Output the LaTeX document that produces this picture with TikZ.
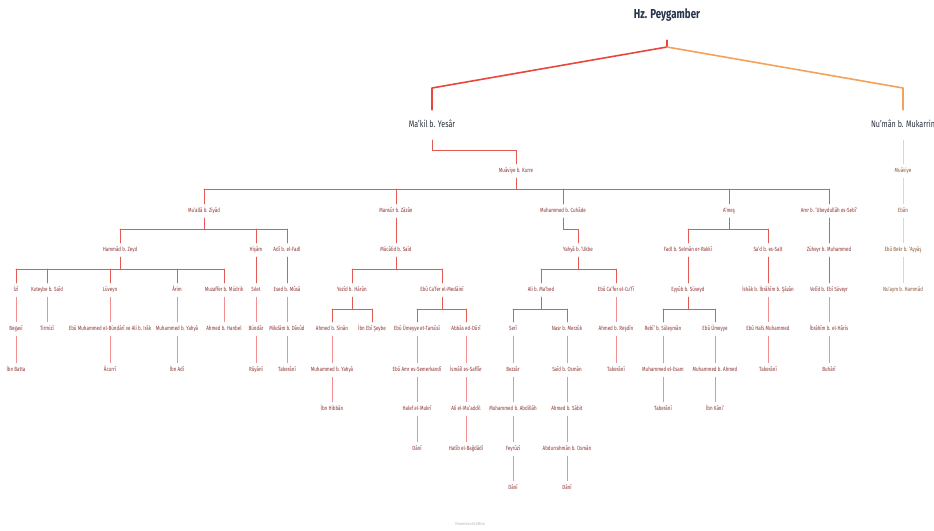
\documentclass[tikz,border=0pt]{standalone}
\usepackage{fontspec}
\setmainfont{Fira Sans}[FakeStretch=0.75]
\definecolor{topred}{HTML}{E8473E}
\definecolor{toporg}{HTML}{F4A259}
\definecolor{linered}{HTML}{E25A52}
\definecolor{linepink}{HTML}{F09090}
\definecolor{lineorg}{HTML}{F7CFA8}
\definecolor{txtred}{HTML}{8E3535}
\definecolor{txtorg}{HTML}{8B5A3A}
\definecolor{txtdark}{HTML}{2A2F3A}
\definecolor{navy}{HTML}{24324A}
\tikzset{
 lbl/.style={inner sep=0pt, minimum height=14pt, font=\fontsize{6}{7}\selectfont, text=txtred, text height=4.5pt, text depth=1pt},
 lblo/.style={lbl, text=txtorg},
 lone/.style={inner sep=0pt, minimum height=30pt, font=\fontsize{9.5}{11}\selectfont, text=txtdark, text height=7pt, text depth=2pt},
 rootn/.style={inner sep=0pt, minimum height=50pt, font=\bfseries\fontsize{13}{15}\selectfont, text=navy, text height=9.5pt, text depth=3pt},
 ln/.style={draw=linered, line width=1pt, line cap=round},
 lnt/.style={draw=linepink, line width=0.7pt, line cap=round},
 lno/.style={draw=lineorg, line width=0.8pt, line cap=round},
 topr/.style={draw=topred, line width=1.6pt, line cap=round, line join=round},
 topo/.style={draw=toporg, line width=1.6pt, line cap=round, line join=round},
 foot/.style={font=\fontsize{4}{5}\selectfont, text=black!30}
}
\newcommand\myfan[6][ln]{%
 \coordinate (fb) at (0,#3);
 \draw[#1] (#2.south) -- (#2.south |- fb);
 \draw[#1] (#4.north |- fb) -- (#5.north |- fb);
 \foreach \c in {#6}{\draw[#1] (\c.north) -- (\c.north |- fb);}
}
\begin{document}
\begin{tikzpicture}[x=1pt,y=-1pt]
\useasboundingbox (0,0) rectangle (934,530);
\fill[white] (0,0) rectangle (934,530);
% root and level 1
\node[rootn] (root) at (667,15) {Hz. Peygamber};
\node[lone] (makil) at (432,125) {Ma'kil b. Yesâr};
\node[lone] (numan) at (903,125) {Nu'mân b. Mukarrin};
% level 2
\node[lbl] (muaviyek) at (516,171) {Muâviye b. Kurre};
\node[lblo] (muaviye) at (903,171) {Muâviye};
% level 3
\node[lbl] (mualla) at (204,211) {Mu'allâ b. Ziyâd};
\node[lbl] (mansur) at (396,211) {Mansûr b. Zâzân};
\node[lbl] (cuhade) at (563,211) {Muhammed b. Cuhâde};
\node[lbl] (ames) at (729,211) {A'meş};
\node[lbl] (amr) at (829,211) {Amr b. 'Ubeydullâh es-Sebî'};
\node[lblo] (eban) at (903,211) {Ebân};
% level 4
\node[lbl] (hammad) at (120,250) {Hammâd b. Zeyd};
\node[lbl] (hisam) at (256,250) {Hişâm};
\node[lbl] (adi) at (287,250) {Adî b. el-Fadl};
\node[lbl] (mucalid) at (396,250) {Mücâlid b. Saîd};
\node[lbl] (yahya) at (578,250) {Yahyâ b. 'Ukbe};
\node[lbl] (fadl) at (688,250) {Fadl b. Selmân er-Rakkî};
\node[lbl] (sad) at (768,250) {Sa'd b. es-Salt};
\node[lbl] (zuheyr) at (829,250) {Züheyr b. Muhammed};
\node[lblo] (ebubekr) at (903,250) {Ebû Bekr b. 'Ayyâş};
% level 5
\node[lbl] (izi) at (16,290) {İzî};
\node[lbl] (kuteybe) at (47,290) {Kuteybe b. Saîd};
\node[lbl] (luveyn) at (110,290) {Lüveyn};
\node[lbl] (arim) at (177,290) {Ârim};
\node[lbl] (muzaffer) at (224,290) {Muzaffer b. Müdrik};
\node[lbl] (silet) at (256,290) {Sılet};
\node[lbl] (esed) at (287,290) {Esed b. Mûsâ};
\node[lbl] (yezid) at (352,290) {Yezîd b. Hârûn};
\node[lbl] (ebucafer) at (442,290) {Ebû Ca'fer el-Medâinî};
\node[lbl] (alimabed) at (541,290) {Ali b. Ma'bed};
\node[lbl] (cufi) at (616,290) {Ebû Ca'fer el-Cu'fî};
\node[lbl] (eyyub) at (688,290) {Eyyûb b. Süveyd};
\node[lbl] (ishak) at (768,290) {İshâk b. İbrâhîm b. Şâzân};
\node[lbl] (velid) at (829,290) {Velîd b. Ebî Süveyr};
\node[lblo] (nuaym) at (903,290) {Nu'aym b. Hammâd};
% level 6
\node[lbl] (begavi) at (16,329) {Begavî};
\node[lbl] (tirmizi) at (47,329) {Tirmizî};
\node[lbl] (ebumuh) at (110,329) {Ebû Muhammed el-Bündârî ve Ali b. Irâk};
\node[lbl] (muhyahyaa) at (177,329) {Muhammed b. Yahyâ};
\node[lbl] (ahmedh) at (224,329) {Ahmed b. Hanbel};
\node[lbl] (bundar) at (256,329) {Bündâr};
\node[lbl] (mikdam) at (287,329) {Mikdâm b. Dâvûd};
\node[lbl] (ahmeds) at (332,329) {Ahmed b. Sinân};
\node[lbl] (ibnebi) at (372,329) {İbn Ebî Şeybe};
\node[lbl] (tarsusi) at (417,329) {Ebû Ümeyye et-Tarsûsî};
\node[lbl] (duri) at (466,329) {Abbâs ed-Dûrî};
\node[lbl] (seri) at (513,329) {Serî};
\node[lbl] (nasr) at (567,329) {Nasr b. Merzûk};
\node[lbl] (resdin) at (616,329) {Ahmed b. Reşdîn};
\node[lbl] (rebi) at (663,329) {Rebî' b. Süleymân};
\node[lbl] (ebuumeyye) at (715,329) {Ebû Ümeyye};
\node[lbl] (ebuhafs) at (768,329) {Ebû Hafs Muhammed};
\node[lbl] (ibrahim) at (829,329) {İbrâhîm b. el-Hâris};
% level 7
\node[lbl] (ibnbatta) at (16,370) {İbn Batta};
\node[lbl] (acurri) at (110,370) {Âcurrî};
\node[lbl] (ibnadi) at (177,370) {İbn Adî};
\node[lbl] (ruyani) at (256,370) {Rûyânî};
\node[lbl] (taberania) at (287,370) {Taberânî};
\node[lbl] (muhyahyab) at (332,370) {Muhammed b. Yahyâ};
\node[lbl] (semerkandi) at (417,370) {Ebû Amr es-Semerkandî};
\node[lbl] (saffar) at (466,370) {İsmâîl es-Saffâr};
\node[lbl] (bezzar) at (513,370) {Bezzâr};
\node[lbl] (said) at (567,370) {Saîd b. Osmân};
\node[lbl] (taberanib) at (616,370) {Taberânî};
\node[lbl] (esam) at (663,370) {Muhammed el-Esam};
\node[lbl] (muhahmed) at (715,370) {Muhammed b. Ahmed};
\node[lbl] (taberanic) at (768,370) {Taberânî};
\node[lbl] (buhari) at (829,370) {Buhârî};
% level 8
\node[lbl] (ibnhibban) at (332,409) {İbn Hibbân};
\node[lbl] (halef) at (417,409) {Halef el-Mukrî};
\node[lbl] (muaddil) at (466,409) {Ali el-Mu'addil};
\node[lbl] (muhabd) at (513,409) {Muhammed b. Abdillâh};
\node[lbl] (ahmedsabit) at (567,409) {Ahmed b. Sâbit};
\node[lbl] (taberanid) at (663,409) {Taberânî};
\node[lbl] (ibnkani) at (715,409) {İbn Kâni'};
% level 9
\node[lbl] (dania) at (417,449) {Dânî};
\node[lbl] (hatib) at (466,449) {Hatîb el-Bağdâdî};
\node[lbl] (feyruzi) at (513,449) {Feyrûzî};
\node[lbl] (abdurrahman) at (567,449) {Abdurrahmân b. Osmân};
% level 10
\node[lbl] (danib) at (513,488) {Dânî};
\node[lbl] (danic) at (567,488) {Dânî};
% footer
\node[foot] (footer) at (470,524) {Presented with XMind};

% top connectors
\coordinate (rj) at (667,47);
\coordinate (mk) at (432,88);
\coordinate (nk) at (903,88);
\draw[topr] (root.south) -- (rj) -- (mk) -- (makil.north);
\draw[topo] (rj) -- (nk) -- (numan.north);
% Ma'kil -> Muaviye b. Kurre
\coordinate (mkb) at (0,150);
\draw[ln] (makil.south) -- (makil.south |- mkb) -- (muaviyek.north |- mkb) -- (muaviyek.north);
% fans
\myfan{muaviyek}{189}{mualla}{amr}{mualla,mansur,cuhade,ames,amr}
\myfan{mualla}{229}{hammad}{adi}{hammad,hisam,adi}
\myfan{ames}{229}{fadl}{sad}{fadl,sad}
\myfan{hammad}{269}{izi}{muzaffer}{izi,kuteybe,luveyn,arim,muzaffer}
\myfan{mucalid}{269}{yezid}{ebucafer}{yezid,ebucafer}
\myfan{yahya}{269}{alimabed}{cufi}{alimabed,cufi}
\myfan{yezid}{309}{ahmeds}{ibnebi}{ahmeds,ibnebi}
\myfan{ebucafer}{309}{tarsusi}{duri}{tarsusi,duri}
\myfan{alimabed}{309}{seri}{nasr}{seri,nasr}
\myfan{eyyub}{309}{rebi}{ebuumeyye}{rebi,ebuumeyye}
% Muhammed b. Cuhade elbow
\coordinate (cb) at (0,229);
\draw[ln] (cuhade.south) -- (cuhade.south |- cb) -- (yahya.north |- cb) -- (yahya.north);
% upper single links
\foreach \a/\b in {mansur/mucalid, amr/zuheyr, hisam/silet, adi/esed, fadl/eyyub, sad/ishak, zuheyr/velid}
  \draw[ln] (\a.south) -- (\b.north);
% lower single links
\foreach \a/\b in {izi/begavi, kuteybe/tirmizi, luveyn/ebumuh, arim/muhyahyaa, muzaffer/ahmedh, silet/bundar, esed/mikdam,
  cufi/resdin, ishak/ebuhafs, velid/ibrahim,
  begavi/ibnbatta, ebumuh/acurri, muhyahyaa/ibnadi, bundar/ruyani, mikdam/taberania, ahmeds/muhyahyab,
  tarsusi/semerkandi, duri/saffar, seri/bezzar, nasr/said, resdin/taberanib, rebi/esam, ebuumeyye/muhahmed,
  ebuhafs/taberanic, ibrahim/buhari,
  muhyahyab/ibnhibban, semerkandi/halef, saffar/muaddil, bezzar/muhabd, said/ahmedsabit, esam/taberanid, muhahmed/ibnkani,
  halef/dania, muaddil/hatib, muhabd/feyruzi, ahmedsabit/abdurrahman,
  feyruzi/danib, abdurrahman/danic}
  \draw[lnt] (\a.south) -- (\b.north);
% Numan branch
\foreach \a/\b in {numan/muaviye, muaviye/eban, eban/ebubekr, ebubekr/nuaym}
  \draw[lno] (\a.south) -- (\b.north);
\end{tikzpicture}
\end{document}
